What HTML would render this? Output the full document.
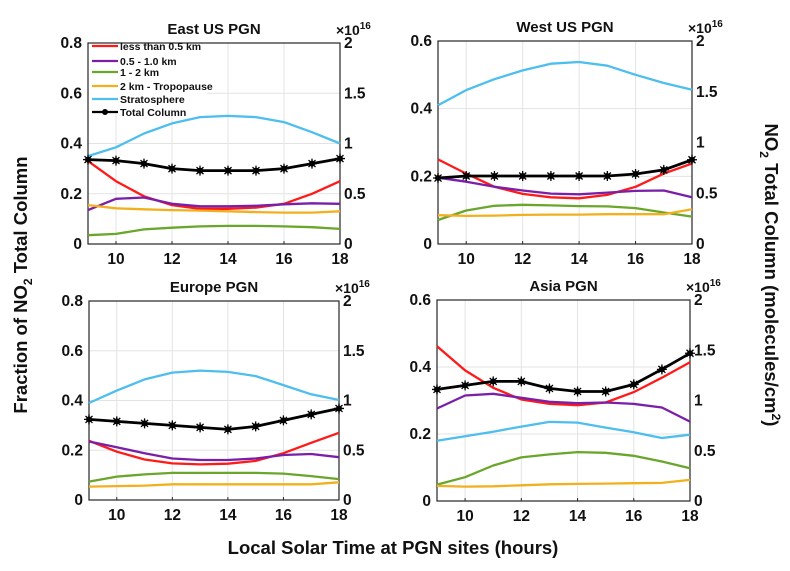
<!DOCTYPE html>
<html><head><meta charset="utf-8"><style>
body{margin:0;background:#fff;}
svg text{font-family:"Liberation Sans",Arial,sans-serif;font-weight:bold;}
</style></head><body>
<svg id="fig" width="790" height="566" xmlns="http://www.w3.org/2000/svg"></svg>
<script>
const hours=[9,10,11,12,13,14,15,16,17,18];
const xTicks=[10,12,14,16,18];
const seriesNames=["less than 0.5 km","0.5 - 1.0 km","1 - 2 km","2 km - Tropopause","Stratosphere","Total Column"];
const seriesColors=["#ff1a1a","#7a1fa8","#6aa62c","#f2b01e","#4dbeee","#000000"];
const panelTitles=["East US PGN","West US PGN","Europe PGN","Asia PGN"];
const leftMax=[0.8,0.6,0.8,0.6];
const leftTicks=[[0,0.2,0.4,0.6,0.8],[0,0.2,0.4,0.6],[0,0.2,0.4,0.6,0.8],[0,0.2,0.4,0.6]];
const rightTicks=[0,0.5,1,1.5,2];
const eastRed=[.33,.25,.19,.155,.14,.14,.145,.16,.20,.25];
const eastPurple=[.135,.18,.185,.16,.15,.15,.152,.158,.162,.16];
const eastGreen=[.035,.04,.058,.065,.07,.072,.072,.07,.067,.06];
const eastOrange=[.155,.142,.138,.135,.133,.13,.127,.125,.125,.13];
const eastBlue=[.35,.385,.44,.48,.505,.51,.505,.485,.445,.40];
const eastTotal=[.84,.83,.80,.75,.73,.73,.73,.75,.80,.85];
const westRed=[.25,.208,.169,.148,.138,.135,.145,.169,.208,.238];
const westPurple=[.196,.184,.169,.158,.149,.147,.152,.157,.158,.138];
const westGreen=[.071,.099,.113,.116,.114,.112,.111,.106,.093,.081];
const westOrange=[.085,.083,.084,.086,.087,.087,.088,.088,.088,.103];
const westBlue=[.41,.455,.487,.513,.533,.538,.527,.50,.476,.456];
const westTotal=[.65,.67,.67,.67,.67,.67,.67,.69,.73,.83];
const euRed=[.238,.194,.163,.147,.143,.146,.157,.188,.23,.27];
const euPurple=[.235,.212,.188,.167,.161,.161,.167,.181,.185,.172];
const euGreen=[.074,.094,.103,.109,.109,.109,.109,.106,.096,.084];
const euOrange=[.054,.056,.058,.063,.063,.063,.063,.063,.063,.071];
const euBlue=[.39,.44,.485,.512,.52,.515,.498,.462,.425,.402];
const euTotal=[.81,.79,.77,.75,.73,.71,.74,.80,.86,.92];
const asRed=[.462,.39,.338,.303,.29,.286,.294,.325,.368,.414];
const asPurple=[.276,.315,.32,.308,.296,.292,.294,.29,.279,.237];
const asGreen=[.049,.071,.106,.13,.139,.146,.144,.135,.118,.098];
const asOrange=[.045,.043,.044,.047,.05,.051,.052,.053,.054,.063];
const asBlue=[.18,.193,.207,.222,.236,.234,.219,.205,.188,.198];
const asTotal=[1.11,1.15,1.19,1.19,1.12,1.09,1.09,1.16,1.31,1.47];
const panelData=[
 [eastRed,eastPurple,eastGreen,eastOrange,eastBlue,eastTotal],
 [westRed,westPurple,westGreen,westOrange,westBlue,westTotal],
 [euRed,euPurple,euGreen,euOrange,euBlue,euTotal],
 [asRed,asPurple,asGreen,asOrange,asBlue,asTotal]];
const boxes=[{x0:88,x1:340,y0:43,y1:244},{x0:438,x1:692,y0:41,y1:244},{x0:89,x1:339,y0:301,y1:500},{x0:437,x1:690,y0:300,y1:501}];
const NS="http://www.w3.org/2000/svg";
const svg=document.getElementById('fig');
function mk(tag,attrs,parent,txt){const e=document.createElementNS(NS,tag);for(const k in attrs)e.setAttribute(k,attrs[k]);if(txt!==undefined)e.textContent=txt;(parent||svg).appendChild(e);return e;}
function fmt(v){return v===0?"0":String(v);}
const legendLayer=[];
boxes.forEach((b,p)=>{
  const g=mk('g',{});
  
  
  const X=h=>b.x0+(h-9)/(18-9)*(b.x1-b.x0);
  const YL=v=>b.y1-v/leftMax[p]*(b.y1-b.y0);
  const YR=v=>b.y1-v/2*(b.y1-b.y0);
  xTicks.forEach(t=>{const l=mk('line',{x1:X(t),x2:X(t),y1:b.y0,y2:b.y1,stroke:'#e3e3e3','stroke-width':1},g);});
  leftTicks[p].forEach(t=>{const l=mk('line',{x1:b.x0,x2:b.x1,y1:YL(t),y2:YL(t),stroke:'#e3e3e3','stroke-width':1},g);});
  if(p===0){
    const lr=mk('rect',{x:89,y:44,width:118,height:70,fill:'#fff',stroke:'none'},g);
    
  }
  const fr=mk('rect',{x:b.x0,y:b.y0,width:b.x1-b.x0,height:b.y1-b.y0,fill:'none',stroke:'#262626','stroke-width':1.2},g);
  
  xTicks.forEach(t=>{
    mk('line',{x1:X(t),x2:X(t),y1:b.y1,y2:b.y1-3,stroke:'#262626'},g);
    const tx=mk('text',{x:X(t),y:b.y1+20,'text-anchor':'middle','font-size':15.5,fill:'#111'},g,String(t));
    
  });
  leftTicks[p].forEach(t=>{
    const tx=mk('text',{x:b.x0-6,y:YL(t)+5,'text-anchor':'end','font-size':15.5,fill:'#111'},g,fmt(t));
    
  });
  rightTicks.forEach(t=>{
    const tx=mk('text',{x:b.x1+4,y:YR(t)+5,'text-anchor':'start','font-size':15.5,fill:'#111'},g,fmt(t));
    
  });
  const ex=mk('text',{x:b.x1-4,y:b.y0-8,'font-size':14,fill:'#111','font-weight':'normal'},g);
  
  mk('tspan',{},ex,'×10');mk('tspan',{dy:-6,'font-size':10},ex,'16');
  const ti=mk('text',{x:(b.x0+b.x1)/2,y:b.y0-9,'text-anchor':'middle','font-size':15,fill:'#111'},g,panelTitles[p]);
  
  panelData[p].forEach((arr,s)=>{
    const Y=s===5?YR:YL;
    const pts=arr.map((v,i)=>X(hours[i]).toFixed(1)+','+Y(v).toFixed(1)).join(' ');
    const pl=mk('polyline',{points:pts,fill:'none',stroke:seriesColors[s],'stroke-width':s===5?2.8:2.3,'stroke-linejoin':'round'},g);
    
    
    if(s===5){arr.forEach((v,i)=>{
      const cx=X(hours[i]),cy=Y(v);
      const m=mk('g',{},g);
      
      
      mk('circle',{cx:cx,cy:cy,r:3,fill:'#000'},m);
      mk('path',{d:`M${cx-5},${cy}H${cx+5}M${cx},${cy-5}V${cy+5}M${cx-3.5},${cy-3.5}L${cx+3.5},${cy+3.5}M${cx-3.5},${cy+3.5}L${cx+3.5},${cy-3.5}`,stroke:'#000','stroke-width':1.3},m);
    });}
  });
});
// legend
const lg=mk('g',{});


const legY=[46,61,72,86,99,112];
seriesNames.forEach((n,s)=>{
  const it=mk('g',{},lg);
  
  
  mk('line',{x1:92,x2:118,y1:legY[s],y2:legY[s],stroke:seriesColors[s],'stroke-width':2.2},it);
  if(s===5){mk('circle',{cx:105,cy:legY[s],r:3,fill:'#000'},it);}
  mk('text',{x:120,y:legY[s]+4,'font-size':10.5,fill:'#111'},it,n);
});
// axis titles
const yl=mk('text',{x:0,y:0,transform:'translate(27,285) rotate(-90)','text-anchor':'middle','font-size':18.5,fill:'#111'});

mk('tspan',{},yl,'Fraction of NO');mk('tspan',{dy:5,'font-size':12},yl,'2');mk('tspan',{dy:-5},yl,' Total Column');
const yr=mk('text',{x:0,y:0,transform:'translate(765,275) rotate(90)','text-anchor':'middle','font-size':18.5,fill:'#111'});

mk('tspan',{},yr,'NO');mk('tspan',{dy:5,'font-size':12},yr,'2');mk('tspan',{dy:-5},yr,' Total Column (molecules/cm');mk('tspan',{dy:-7,'font-size':12},yr,'2');mk('tspan',{dy:7},yr,')');
const xl=mk('text',{x:393,y:554,'text-anchor':'middle','font-size':18.5,fill:'#111'},svg,'Local Solar Time at PGN sites (hours)');

</script>
</body></html>
